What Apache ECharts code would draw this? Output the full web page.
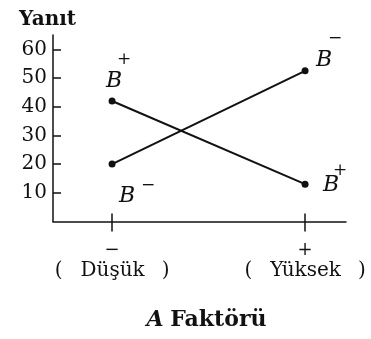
<!DOCTYPE html>
<html>
<head>
<meta charset="utf-8">
<script src="https://cdn.jsdelivr.net/npm/echarts@6/dist/echarts.min.js"></script>
<style>
  html, body { margin: 0; padding: 0; background: #fff; }
  #main { width: 371px; height: 339px; }
</style>
</head>
<body>
<div id="main"></div>
<script>
// A faktörü seviyeleri (x ekseni): düşük = 1, yüksek = 2
const levels = [1, 2];
const levelSigns = ['−', '+'];
const levelNames = ['Düşük', 'Yüksek'];

// B faktörü seviyelerine göre yanıt değerleri
const bLowValues = [20, 52.5];
const bHighValues = [42, 13];

const yTicks = [10, 20, 30, 40, 50, 60];

const SERIF = '"DejaVu Serif", "Liberation Serif", serif';
const INK = '#111';

// etiket yerleşimi: [ox, oy, işaret satırı yüksekliği, işaret sol boşluğu, B satırı yüksekliği]
const lowPlace = [[7, 21, 1, 22, 20], [11, -42, 20, 12, 22]];
const highPlace = [[-6, -51, 20, 11, 22], [18, -18, 8, 10, 22]];

function makeData(values, sign, place) {
    return values.map((v, i) => {
        let p = place[i];
        return {
            value: [levels[i], v],
            label: {
                show: true,
                position: 'inside',
                align: 'left',
                verticalAlign: 'top',
                offset: [p[0], p[1]],
                formatter: '{s|' + sign + '}\n{b|B}',
                rich: {
                    s: { fontFamily: SERIF, fontSize: 17, color: INK, lineHeight: p[2], padding: [0, 0, 0, p[3]] },
                    b: { fontFamily: SERIF, fontStyle: 'italic', fontSize: 22, color: INK, lineHeight: p[4] }
                }
            }
        };
    });
}

let myChart = echarts.init(document.getElementById('main'));

let lineStyle = { color: INK, width: 2 };

let option = {
    animation: false,
    title: {
        text: 'Yanıt',
        left: 14,
        top: 5,
        textStyle: { fontFamily: SERIF, fontWeight: 'bold', fontSize: 20, color: INK }
    },
    grid: { left: 53, right: 25, top: 35, bottom: 117.5 },
    xAxis: [
        {
            type: 'value',
            min: 0.694,
            max: 2.212,
            splitLine: { show: false },
            axisLine: { lineStyle: { color: INK, width: 1.5 } },
            axisTick: { customValues: levels, length: 10, lineStyle: { color: INK, width: 1.5 } },
            axisLabel: {
                customValues: levels,
                margin: 17,
                formatter: function (v) {
                    let i = levels.indexOf(v);
                    return '{s|' + levelSigns[i] + '}\n{p|(}{n|' + levelNames[i] + '}{p|)}';
                },
                rich: {
                    s: { fontFamily: SERIF, fontSize: 18, color: INK, lineHeight: 24 },
                    p: { fontFamily: SERIF, fontSize: 20, color: INK, lineHeight: 16 },
                    n: { fontFamily: SERIF, fontSize: 20, color: INK, lineHeight: 16, padding: [0, 17, 0, 18] }
                }
            },
            name: '{i|A}  {b|Faktörü}',
            nameLocation: 'middle',
            nameGap: 88,
            nameTextStyle: {
                padding: [0, 0, 0, 14],
                rich: {
                    i: { fontFamily: SERIF, fontStyle: 'italic', fontWeight: 'bold', fontSize: 22, color: INK },
                    b: { fontFamily: SERIF, fontWeight: 'bold', fontSize: 22, color: INK }
                }
            }
        },
        {
            type: 'value',
            position: 'bottom',
            min: 0.694,
            max: 2.212,
            splitLine: { show: false },
            axisLine: { show: false },
            axisTick: { customValues: levels, inside: true, length: 8, lineStyle: { color: INK, width: 1.5 } },
            axisLabel: { show: false }
        }
    ],
    yAxis: {
        type: 'value',
        min: 0,
        max: 65,
        splitLine: { show: false },
        axisLine: { show: true, lineStyle: { color: INK, width: 1.5 } },
        axisTick: { show: true, inside: true, length: 8, customValues: yTicks, lineStyle: { color: INK, width: 1.5 } },
        axisLabel: {
            customValues: yTicks,
            margin: 6,
            fontFamily: SERIF,
            fontSize: 20,
            color: INK
        }
    },
    series: [
        {
            name: 'B−',
            type: 'line',
            symbol: 'circle',
            symbolSize: 7,
            itemStyle: { color: INK },
            lineStyle: lineStyle,
            data: makeData(bLowValues, '−', lowPlace)
        },
        {
            name: 'B+',
            type: 'line',
            symbol: 'circle',
            symbolSize: 7,
            itemStyle: { color: INK },
            lineStyle: lineStyle,
            data: makeData(bHighValues, '+', highPlace)
        }
    ]
};

myChart.setOption(option);
</script>
</body>
</html>
